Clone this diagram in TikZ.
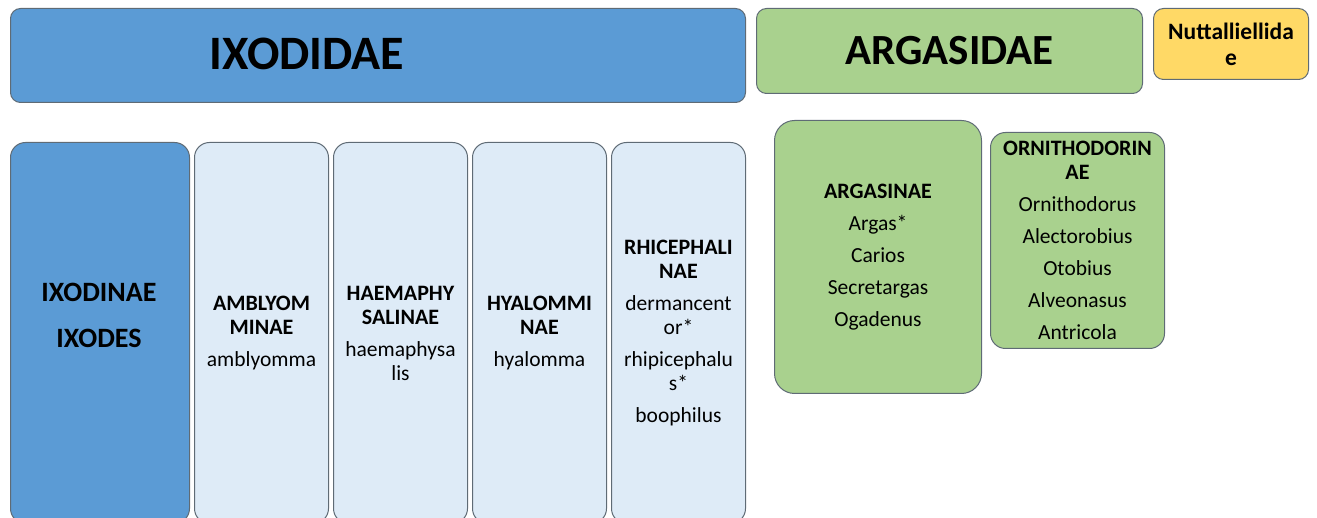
\documentclass[tikz,border=0pt]{standalone}
\usepackage{fontspec}
\setmainfont{Carlito}
\definecolor{topblue}{HTML}{5B9BD5}
\definecolor{lightblue}{HTML}{DEEBF7}
\definecolor{green}{HTML}{A9D18E}
\definecolor{yellow}{HTML}{FFD966}
\definecolor{boxline}{HTML}{5F6B75}
\newcommand\hdfont{\fontsize{22}{24}\selectfont\bfseries}
\begin{document}
\begin{tikzpicture}[x=1pt,y=-1pt,
  box/.style={draw=boxline, line width=1pt, rounded corners=10pt, inner sep=0pt, anchor=north west, align=center},
  col/.style={box, rounded corners=15pt, minimum width=134pt, minimum height=381pt, small},
  small/.style={font=\fontsize{21.5}{24}\selectfont}]
\useasboundingbox (0,0) rectangle (1317,518);
% top row
\node[box, fill=topblue, minimum width=735pt, minimum height=94pt] (ixodidae) at (10,8) {};
\node[font=\fontsize{48}{50}\selectfont\bfseries] (ixodidaeT) at (307,54) {IXODIDAE};
\node[box, fill=green, minimum width=386pt, minimum height=85pt, font=\fontsize{43}{50}\selectfont\bfseries] (argasidae) at (756,8) {ARGASIDAE};
\node[box, fill=yellow, minimum width=155pt, minimum height=71pt, font=\fontsize{23.5}{26}\selectfont\bfseries] (nutt) at (1153,8) {Nuttalliellida\\e};
% Ixodidae subfamilies
\node[col, fill=topblue, minimum width=179pt] (ixodinae) at (10,142) {};
\node[font=\fontsize{28}{46}\selectfont\bfseries, align=center] (ixodinaeT) at (99,315) {IXODINAE\\IXODES};
\node[col, fill=lightblue] (ambly) at (194,142)
  {{\hdfont AMBLYOM}\\{\hdfont MINAE}\\[8pt]amblyomma};
\node[col, fill=lightblue] (haema) at (333,142)
  {{\hdfont HAEMAPHY}\\{\hdfont SALINAE}\\[8pt]haemaphysa\\lis};
\node[col, fill=lightblue] (hyalo) at (472,142)
  {{\hdfont HYALOMMI}\\{\hdfont NAE}\\[8pt]hyalomma};
\node[col, fill=lightblue] (rhice) at (611,142)
  {{\hdfont RHICEPHALI}\\{\hdfont NAE}\\[8pt]dermancent\\or*\\[8pt]rhipicephalu\\s*\\[8pt]boophilus};
% Argasidae subfamilies
\node[box, fill=green, rounded corners=20pt, minimum width=207pt, minimum height=273pt, small] (argasinae) at (774,120)
  {{\hdfont ARGASINAE}\\[8pt]Argas*\\[8pt]Carios\\[8pt]Secretargas\\[8pt]Ogadenus};
\node[box, fill=green, rounded corners=15pt, minimum width=174pt, minimum height=216pt, small] (ornitho) at (990,132)
  {{\hdfont ORNITHODORIN}\\{\hdfont AE}\\[8pt]Ornithodorus\\[8pt]Alectorobius\\[8pt]Otobius\\[8pt]Alveonasus\\[8pt]Antricola};
\end{tikzpicture}
\end{document}
